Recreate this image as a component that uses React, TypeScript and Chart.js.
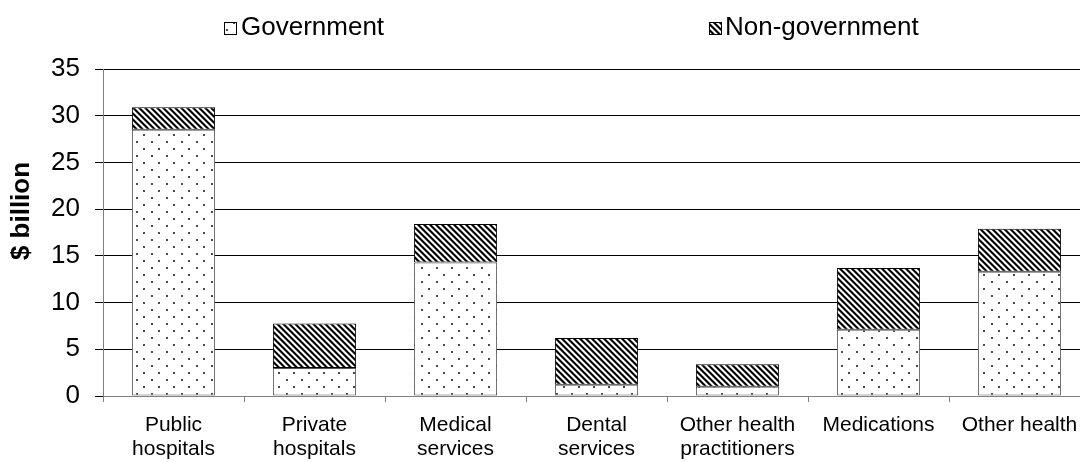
import React, { useEffect, useRef } from "react";
import { Chart, registerables } from "chart.js";

Chart.register(...registerables);

const categories: string[][] = [
  ["Public", "hospitals"],
  ["Private", "hospitals"],
  ["Medical", "services"],
  ["Dental", "services"],
  ["Other health", "practitioners"],
  ["Medications"],
  ["Other health"],
];
const government = [28.5, 3.0, 14.3, 1.2, 1.0, 7.1, 13.3];
const nonGovernment = [2.4, 4.75, 4.1, 5.0, 2.4, 6.6, 4.6];
const seriesNames = ["Government", "Non-government"];
const yTitle = "$ billion";
const yMin = 0;
const yMax = 35;
const yStep = 5;

const FONT = "'Liberation Sans', Arial, sans-serif";

function makeDots(): CanvasPattern | string {
  const c = document.createElement("canvas");
  c.width = 15;
  c.height = 14;
  const g = c.getContext("2d");
  if (!g) return "#fff";
  g.fillStyle = "#ffffff";
  g.fillRect(0, 0, 15, 14);
  g.fillStyle = "#4a4a4a";
  g.fillRect(1, 1, 2, 2);
  g.fillRect(8, 8, 2, 2);
  return g.createPattern(c, "repeat") || "#fff";
}

function makeHatch(): CanvasPattern | string {
  const n = 6;
  const c = document.createElement("canvas");
  c.width = n;
  c.height = n;
  const g = c.getContext("2d");
  if (!g) return "#000";
  const img = g.createImageData(n, n);
  for (let y = 0; y < n; y++) {
    for (let x = 0; x < n; x++) {
      let cov = 0;
      for (let sy = 0; sy < 4; sy++) {
        for (let sx = 0; sx < 4; sx++) {
          const px = x + (sx + 0.5) / 4;
          const py = y + (sy + 0.5) / 4;
          const d = (((px - py) % n) + n) % n;
          if (d < 3) cov++;
        }
      }
      const v = Math.round(255 * (1 - cov / 16));
      const i = (y * n + x) * 4;
      img.data[i] = v;
      img.data[i + 1] = v;
      img.data[i + 2] = v;
      img.data[i + 3] = 255;
    }
  }
  g.putImageData(img, 0, 0);
  return g.createPattern(c, "repeat") || "#000";
}

export default function App() {
  const ref = useRef<HTMLCanvasElement | null>(null);

  useEffect(() => {
    if (!ref.current) return;
    const dots = makeDots();
    const hatch = makeHatch();

    const overlay = {
      id: "overlay",
      afterDraw(chart: any) {
        const ctx = chart.ctx;
        ctx.save();
        // legend
        ctx.font = `26px ${FONT}`;
        ctx.textBaseline = "alphabetic";
        ctx.textAlign = "left";
        const items = [
          { name: seriesNames[0], fill: dots, bx: 224, tx: 241 },
          { name: seriesNames[1], fill: hatch, bx: 709, tx: 725 },
        ];
        for (const it of items) {
          ctx.fillStyle = it.fill;
          ctx.fillRect(it.bx, 22, 13, 13);
          ctx.strokeStyle = "#000";
          ctx.lineWidth = 1;
          ctx.strokeRect(it.bx + 0.5, 22.5, 12, 12);
          ctx.fillStyle = "#000";
          ctx.fillText(it.name, it.tx, 35);
        }
        // y-axis title
        ctx.translate(22, 211);
        ctx.rotate(-Math.PI / 2);
        ctx.font = `bold 26px ${FONT}`;
        ctx.textAlign = "center";
        ctx.textBaseline = "middle";
        ctx.fillStyle = "#000";
        ctx.fillText(yTitle, 0, 0);
        ctx.restore();
      },
    };

    const chart = new Chart(ref.current, {
      type: "bar",
      data: {
        labels: categories,
        datasets: [
          {
            label: seriesNames[0],
            data: government,
            backgroundColor: dots as any,
            borderColor: "#555",
            borderWidth: 1,
            borderSkipped: false,
            barPercentage: 0.59,
            categoryPercentage: 1,
          },
          {
            label: seriesNames[1],
            data: nonGovernment,
            backgroundColor: hatch as any,
            borderColor: "#000",
            borderWidth: 1,
            borderSkipped: false,
            barPercentage: 0.59,
            categoryPercentage: 1,
          },
        ],
      },
      options: {
        animation: false,
        responsive: false,
        maintainAspectRatio: false,
        layout: { padding: { top: 69, left: 0, right: 0, bottom: 0 } },
        plugins: {
          legend: { display: false },
          tooltip: { enabled: false },
          title: { display: false },
        },
        scales: {
          x: {
            stacked: true,
            offset: true,
            grid: {
              display: true,
              drawOnChartArea: false,
              drawTicks: true,
              tickLength: 6,
              color: "#808080",
              offset: true,
            },
            border: { display: true, color: "#808080", width: 1 },
            ticks: {
              color: "#000",
              font: { family: FONT, size: 21, lineHeight: 1.15 },
              padding: 11,
              maxRotation: 0,
              minRotation: 0,
              autoSkip: false,
            },
            afterFit: (s: any) => {
              s.height = 66;
            },
          },
          y: {
            stacked: true,
            min: yMin,
            max: yMax,
            grid: {
              color: (c: any) => (c.tick && c.tick.value === 0 ? "#808080" : "#000"),
              tickColor: "#000",
              tickLength: 8,
              lineWidth: 1,
            },
            border: { display: true, color: "#808080", width: 1 },
            ticks: {
              stepSize: yStep,
              color: "#000",
              font: { family: FONT, size: 26 },
              padding: 15,
            },
            afterFit: (s: any) => {
              s.width = 103;
            },
          },
        },
      },
      plugins: [overlay],
    });
    return () => chart.destroy();
  }, []);

  return (
    <div
      style={{
        position: "fixed",
        left: 0,
        top: 0,
        width: 1080,
        height: 462,
        overflow: "hidden",
        background: "#fff",
      }}
    >
      <canvas ref={ref} width={1090} height={462} style={{ width: 1090, height: 462, display: "block" }} />
    </div>
  );
}
